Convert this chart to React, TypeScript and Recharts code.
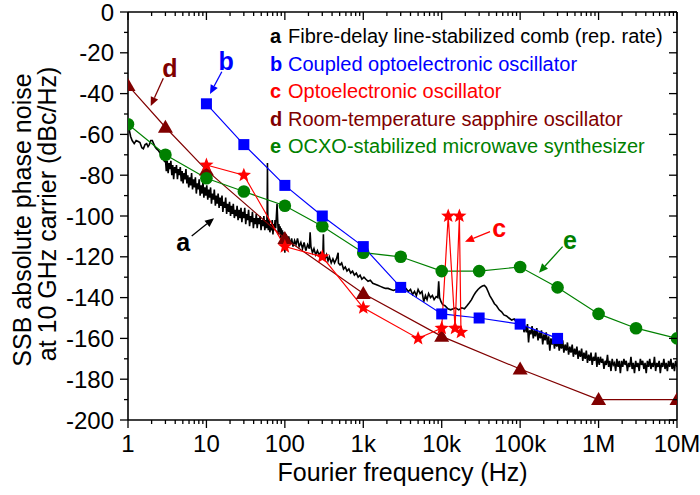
import React from 'react';
import { LineChart, Line, XAxis, YAxis, ReferenceLine, ReferenceDot, Legend } from 'recharts';

const FONT = '"Liberation Sans", Arial, Helvetica, sans-serif';

// ---- axis ticks ----
const xMajorTicks = [1, 10, 100, 1000, 10000, 100000, 1000000, 10000000];
const xMajorLabels = ['1', '10', '100', '1k', '10k', '100k', '1M', '10M'];
const xMinorSteps = [2, 3, 4, 5, 6, 7, 8, 9];
const yMajorTicks = [0, -20, -40, -60, -80, -100, -120, -140, -160, -180, -200];
const yMinorTicks = [-10, -30, -50, -70, -90, -110, -130, -150, -170, -190];

// ---- legend ----
const legendLetters = ['a', 'b', 'c', 'd', 'e'];
const legendNames = [
  'Fibre-delay line-stabilized comb (rep. rate)',
  'Coupled optoelectronic oscillator',
  'Optoelectronic oscillator',
  'Room-temperature sapphire oscillator',
  'OCXO-stabilized microwave synthesizer',
];
const seriesColors = ['#000000', '#0000ff', '#ff0000', '#800000', '#008000'];

// ---- series b: coupled optoelectronic oscillator ----
const bFreq = [10, 30, 100, 300, 1000, 3000, 10000, 30000, 100000, 300000];
const bVal = [-45, -65, -85, -100, -115, -135, -148, -150, -153, -160];

// ---- series c: optoelectronic oscillator ----
const cFreq = [10, 30, 100, 300, 1000, 5000, 10000, 12100, 14800, 16800, 17600];
const cVal = [-75, -80, -115, -120, -145, -160, -155, -100, -155, -100, -157];

// ---- series d: room-temperature sapphire oscillator ----
const dFreq = [1, 3, 10, 100, 1000, 10000, 100000, 1000000, 10000000];
const dVal = [-36, -56.5, -77.5, -111, -138, -159, -175, -190, -190];

// ---- series e: OCXO-stabilized microwave synthesizer ----
const eFreq = [1, 3, 10, 30, 100, 300, 1000, 3000, 10000, 30000, 100000, 300000, 1000000, 3000000, 10000000];
const eVal = [-55, -70, -81.5, -88, -95, -105, -118, -120, -127, -127, -125, -135, -148, -155, -160];

const traceA: [number, number][] = [
  [1, -55], [1.04, -58], [1.08, -61], [1.13, -63], [1.2, -64.5], [1.27, -63], [1.35, -63.5], [1.42, -64],
  [1.5, -66.5], [1.57, -67], [1.65, -65], [1.73, -64.5], [1.8, -66], [1.87, -65], [1.95, -63], [2.04, -63],
  [2.12, -64.5], [2.2, -66], [2.3, -67], [2.45, -68], [2.6, -69.5], [2.75, -71], [2.9, -73],
  [3.0, -72], [3.08, -78], [3.16, -73], [3.25, -79], [3.34, -74], [3.43, -77], [3.52, -73], [3.62, -80],
  [3.72, -75], [3.82, -82], [3.93, -76], [4.04, -79], [4.15, -75], [4.27, -82], [4.39, -77], [4.51, -80],
  [4.64, -76], [4.77, -83], [4.9, -78], [5.04, -84], [5.18, -79], [5.33, -82], [5.48, -77], [5.63, -84],
  [5.79, -80], [5.95, -86], [6.12, -81], [6.29, -85], [6.47, -79], [6.65, -87], [6.84, -82], [7.03, -86],
  [7.23, -81], [7.43, -89], [7.64, -84], [7.86, -87], [8.08, -82], [8.31, -90], [8.54, -85], [8.78, -89],
  [9.03, -83], [9.28, -91], [9.54, -86], [9.81, -90], [10.1, -85], [10.4, -92], [10.7, -87], [11.0, -91],
  [11.3, -86], [11.6, -94], [11.9, -89], [12.3, -92], [12.6, -87], [13.0, -95], [13.3, -90], [13.7, -94],
  [14.1, -89], [14.5, -96], [14.9, -91], [15.3, -95], [15.8, -90], [16.2, -98], [16.7, -93], [17.1, -96],
  [17.6, -91], [18.1, -99], [18.6, -94], [19.2, -98], [19.7, -93], [20.3, -100], [20.8, -95], [21.4, -99],
  [22.0, -94], [22.7, -101], [23.3, -97], [24.0, -100], [24.6, -95], [25.3, -102], [26.1, -97], [26.8, -101],
  [27.6, -96], [28.3, -103], [29.1, -98], [30.0, -101], [30.8, -96], [31.7, -104], [32.6, -99], [33.5, -102],
  [34.5, -97], [35.5, -105], [36.5, -100], [37.5, -103], [38.6, -98], [39.7, -106], [40.8, -101], [42.0, -104],
  [43.2, -99], [44.4, -106], [45.7, -101], [47.0, -104], [48.3, -100], [49.7, -107], [51.1, -102], [52.5, -105],
  [54.0, -100], [55.5, -107], [57.1, -102], [58.5, -106], [59.5, -97], [60.0, -74], [60.5, -98], [61.5, -107],
  [63.0, -102], [64.5, -108], [66.0, -104], [67.5, -107], [69.0, -102], [70.5, -109], [72.0, -104], [73.5, -107],
  [75.0, -102], [76.5, -106], [78.0, -100], [79.5, -94], [81.0, -102], [82.5, -109], [84.0, -104], [85.5, -108],
  [87.0, -105], [88.5, -111], [90.0, -106], [91.5, -110], [93.0, -107], [94.5, -113], [96.0, -108], [97.5, -114],
  [99.0, -112], [100, -118],
  [101, -112], [104, -109], [108, -113], [112, -110], [117, -114], [122, -111], [127, -115], [133, -112],
  [139, -114], [145, -111], [152, -115], [160, -113], [168, -116], [176, -113], [185, -117], [195, -114],
  [205, -116], [210, -108], [215, -115], [225, -118], [235, -116], [247, -119], [260, -117], [272, -119],
  [285, -118], [298, -120], [306, -117], [310, -109], [314, -119], [325, -121], [340, -119], [355, -122],
  [370, -120], [390, -123], [410, -121], [430, -123], [455, -121], [478, -118], [482, -123], [505, -124],
  [530, -123], [560, -126], [590, -125], [620, -127], [655, -126], [690, -128], [730, -127], [770, -129],
  [815, -128], [860, -130], [910, -129], [960, -131], [1020, -130], [1080, -131], [1150, -132], [1230, -131.5],
  [1320, -133], [1420, -133.5], [1530, -134], [1650, -134.5], [1780, -135], [1920, -135.5], [2070, -135.5], [2240, -136],
  [2420, -136.5], [2600, -136], [2800, -135.5], [3000, -135.5], [3250, -135], [3500, -135.5], [3750, -137], [4000, -136],
  [4250, -138.5], [4500, -137], [4750, -139], [5000, -136], [5300, -138], [5600, -137], [5900, -142], [6200, -139],
  [6500, -141], [6800, -138], [7200, -140], [7600, -139], [8000, -141], [8500, -139.5], [8900, -140], [9150, -132],
  [9400, -140], [9800, -142], [10300, -143.5], [11000, -144], [12000, -145.5], [13000, -146], [14000, -145.5], [15000, -145],
  [16500, -146], [18000, -145], [19500, -145.5], [21000, -144], [22500, -142.5], [24000, -141], [25500, -139], [27000, -137.5],
  [29000, -136], [31000, -135], [33000, -134.3], [35000, -134], [37000, -135], [39000, -137], [41000, -139], [44000, -141],
  [47000, -143], [50000, -144], [54000, -146], [58000, -147], [62000, -148.5], [67000, -149], [72000, -150], [78000, -151],
  [84000, -150.5], [90000, -152], [96000, -151.5],
  [100000, -153], [104000, -155], [108000, -151], [112000, -157], [116000, -154], [120000, -157], [124000, -153], [128000, -162],
  [132000, -156], [137000, -158], [142000, -154], [147000, -160], [152000, -156], [157000, -159], [163000, -155], [169000, -161],
  [175000, -157], [181000, -160], [187000, -156], [194000, -163], [201000, -158], [208000, -161], [215000, -157], [223000, -163],
  [231000, -159], [239000, -166], [247000, -160], [256000, -163], [265000, -160], [274000, -165], [284000, -161], [294000, -164],
  [304000, -160], [315000, -166], [326000, -162], [337000, -165], [349000, -161], [361000, -167], [374000, -163], [387000, -166],
  [401000, -162], [415000, -168], [430000, -164], [445000, -167], [461000, -163], [477000, -169], [494000, -165], [511000, -168],
  [529000, -164], [548000, -170], [567000, -166], [587000, -169], [608000, -165], [629000, -171], [651000, -167], [674000, -170],
  [698000, -166], [722000, -172], [748000, -168], [774000, -171], [801000, -167], [829000, -173], [858000, -169], [888000, -171],
  [919000, -167], [952000, -174], [985000, -169], [1020000, -173], [1056000, -169], [1093000, -172], [1131000, -170], [1171000, -175],
  [1212000, -171], [1255000, -173], [1299000, -168], [1344000, -174], [1391000, -171], [1440000, -176], [1491000, -170], [1543000, -173],
  [1597000, -172], [1653000, -176], [1711000, -170], [1771000, -174], [1833000, -171], [1897000, -177], [1964000, -171], [2033000, -174],
  [2104000, -170], [2178000, -173], [2254000, -171], [2333000, -176], [2415000, -172], [2500000, -174], [2588000, -169], [2679000, -175],
  [2773000, -172], [2870000, -177], [2971000, -171], [3075000, -174], [3183000, -172], [3295000, -176], [3410000, -170], [3530000, -173],
  [3654000, -171], [3782000, -175], [3915000, -172], [4052000, -177], [4194000, -171], [4341000, -174], [4493000, -170], [4651000, -175],
  [4814000, -172], [4983000, -174], [5158000, -169], [5339000, -176], [5526000, -172], [5720000, -174], [5921000, -171], [6129000, -177],
  [6344000, -172], [6567000, -174], [6797000, -170], [7036000, -175], [7283000, -172], [7539000, -176], [7804000, -171], [8078000, -174],
  [8362000, -170], [8656000, -175], [8960000, -172], [9274000, -176], [9600000, -171], [10000000, -174],
];

// ---- annotations (data coordinates) ----
const annLetters = ['a', 'b', 'c', 'd', 'e'];
const annLetterPos: [number, number][] = [[5.07, -112.6], [17.8, -23.9], [54200, -106], [3.43, -27.3], [432000, -111.8]];
const annArrowFrom: [number, number][] = [[6.49, -109.8], [15.7, -29.3], [41300, -107.7], [2.82, -32.5], [348000, -115]];
const annArrowTo: [number, number][] = [[12.5, -101.1], [11.1, -40.2], [19800, -112.6], [1.95, -46.1], [174000, -127.8]];

const xAllTicks = xMajorTicks.flatMap((m, i) =>
  i < xMajorTicks.length - 1 ? [m, ...xMinorSteps.map((s) => m * s)] : [m]
);
const yAllTicks = [...yMajorTicks, ...yMinorTicks].sort((a, b) => b - a);

const toPts = (fs: number[], vs: number[]) => fs.map((f, i) => ({ f, v: vs[i] }));
const dataA = traceA.map(([f, v]) => ({ f, v }));
const dataB = toPts(bFreq, bVal);
const dataC = toPts(cFreq, cVal);
const dataD = toPts(dFreq, dVal);
const dataE = toPts(eFreq, eVal);

// ---- ticks ----
const BottomTick = (props: any) => {
  const { x, y, payload } = props;
  const i = xMajorTicks.indexOf(payload.value);
  const major = i >= 0;
  return (
    <g>
      <line x1={x} x2={x} y1={y} y2={y + (major ? 8 : 4)} stroke="#000" strokeWidth={1.3} />
      {major && (
        <text x={x} y={y + 32} textAnchor="middle" fontFamily={FONT} fontSize={24} fill="#000">
          {xMajorLabels[i]}
        </text>
      )}
    </g>
  );
};
const TopTick = (props: any) => {
  const { x, y, payload } = props;
  const major = xMajorTicks.indexOf(payload.value) >= 0;
  return <line x1={x} x2={x} y1={y} y2={y + (major ? 8 : 4)} stroke="#000" strokeWidth={1.3} />;
};
const LeftTick = (props: any) => {
  const { x, y, payload } = props;
  const major = yMajorTicks.indexOf(payload.value) >= 0;
  return (
    <g>
      <line x1={x - (major ? 8 : 4)} x2={x} y1={y} y2={y} stroke="#000" strokeWidth={1.3} />
      {major && (
        <text x={x - 14} y={y} dy="0.36em" textAnchor="end" fontFamily={FONT} fontSize={24} fill="#000">
          {String(payload.value)}
        </text>
      )}
    </g>
  );
};
const RightTick = (props: any) => {
  const { x, y, payload } = props;
  const major = yMajorTicks.indexOf(payload.value) >= 0;
  return <line x1={x - (major ? 8 : 4)} x2={x} y1={y} y2={y} stroke="#000" strokeWidth={1.3} />;
};

// ---- axis titles ----
const XTitle = (props: any) => {
  const vb = props.viewBox || { x: 128, y: 420, width: 549, height: 60 };
  return (
    <text x={vb.x + vb.width / 2} y={vb.y + 61} textAnchor="middle" fontFamily={FONT} fontSize={25} fill="#000">
      Fourier frequency (Hz)
    </text>
  );
};
const YTitle = (props: any) => {
  const vb = props.viewBox || { x: 68, y: 12, width: 60, height: 408 };
  const cy = vb.y + vb.height / 2;
  const x1 = vb.x - 37;
  const x2 = vb.x - 12;
  return (
    <g fontFamily={FONT} fontSize={25} fill="#000">
      <text x={x1} y={cy + 4} textAnchor="middle" transform={`rotate(-90 ${x1} ${cy + 4})`}>
        SSB absolute phase noise
      </text>
      <text x={x2} y={cy - 2} textAnchor="middle" transform={`rotate(-90 ${x2} ${cy - 2})`}>
        at 10 GHz carrier (dBc/Hz)
      </text>
    </g>
  );
};

// ---- markers ----
const starPoints = (cx: number, cy: number, ro: number, ri: number) => {
  const pts: string[] = [];
  for (let k = 0; k < 10; k++) {
    const r = k % 2 === 0 ? ro : ri;
    const a = -Math.PI / 2 + (k * Math.PI) / 5;
    pts.push(`${cx + r * Math.cos(a)},${cy + r * Math.sin(a)}`);
  }
  return pts.join(' ');
};
const SquareDot = (p: any) => (
  <rect key={`b${p.index}`} x={p.cx - 5.5} y={p.cy - 5.5} width={11} height={11} fill={seriesColors[1]} />
);
const StarDot = (p: any) => (
  <polygon key={`c${p.index}`} points={starPoints(p.cx, p.cy, 7.5, 3.2)} fill={seriesColors[2]} />
);
const TriDot = (p: any) => (
  <polygon
    key={`d${p.index}`}
    points={`${p.cx},${p.cy - 7.5} ${p.cx + 7.5},${p.cy + 5.5} ${p.cx - 7.5},${p.cy + 5.5}`}
    fill={seriesColors[3]}
  />
);
const CircleDot = (p: any) => <circle key={`e${p.index}`} cx={p.cx} cy={p.cy} r={6.3} fill={seriesColors[4]} />;

// ---- annotation shapes ----
const makeArrow = (color: string) => (p: any) => {
  const { x1, y1, x2, y2 } = p;
  if ([x1, y1, x2, y2].some((v) => typeof v !== 'number' || isNaN(v))) return <g />;
  const dx = x2 - x1;
  const dy = y2 - y1;
  const len = Math.sqrt(dx * dx + dy * dy) || 1;
  const ux = dx / len;
  const uy = dy / len;
  const hl = 9;
  const hw = 4;
  const bx = x2 - ux * hl;
  const by = y2 - uy * hl;
  return (
    <g>
      <line x1={x1} y1={y1} x2={bx} y2={by} stroke={color} strokeWidth={1.3} />
      <polygon
        points={`${x2},${y2} ${bx - uy * hw},${by + ux * hw} ${bx + uy * hw},${by - ux * hw}`}
        fill={color}
      />
    </g>
  );
};
const makeLetter = (letter: string, color: string) => (p: any) => (
  <text
    x={p.cx}
    y={p.cy}
    dy="0.36em"
    textAnchor="middle"
    fontFamily={FONT}
    fontSize={25}
    fontWeight="bold"
    fill={color}
  >
    {letter}
  </text>
);

const LegendBox = () => (
  <svg width={700} height={170} style={{ display: 'block' }}>
    {legendLetters.map((l, i) => (
      <text key={l} y={43 + i * 27.5} fontFamily={FONT} fontSize={20} fill={seriesColors[i]}>
        <tspan x={270} fontWeight="bold">
          {l}
        </tspan>
        <tspan x={288}>{legendNames[i]}</tspan>
      </text>
    ))}
  </svg>
);

const annColorIndex = [0, 1, 2, 3, 4];

export default function App() {
  const axisLine = { stroke: '#000', strokeWidth: 1.6 };
  return (
    <div style={{ width: 700, height: 495, background: '#fff' }}>
      <style>{`body{margin:0;background:#fff}`}</style>
      <LineChart width={700} height={495} margin={{ top: 11, right: 22, bottom: 15, left: 68 }}>
        <XAxis
          xAxisId={0}
          dataKey="f"
          type="number"
          scale="log"
          domain={[1, 10000000]}
          ticks={xAllTicks}
          interval={0}
          tick={<BottomTick />}
          tickLine={false}
          tickSize={0}
          tickMargin={0}
          height={60}
          allowDataOverflow
          axisLine={axisLine}
          label={<XTitle />}
        />
        <XAxis
          xAxisId="top"
          orientation="top"
          dataKey="f"
          type="number"
          scale="log"
          domain={[1, 10000000]}
          ticks={xAllTicks}
          interval={0}
          tick={<TopTick />}
          tickLine={false}
          tickSize={0}
          tickMargin={0}
          height={1}
          allowDataOverflow
          axisLine={axisLine}
        />
        <YAxis
          yAxisId={0}
          type="number"
          domain={[-200, 0]}
          ticks={yAllTicks}
          interval={0}
          tick={<LeftTick />}
          tickLine={false}
          tickSize={0}
          tickMargin={0}
          width={60}
          allowDataOverflow
          axisLine={axisLine}
          label={<YTitle />}
        />
        <YAxis
          yAxisId="right"
          orientation="right"
          type="number"
          domain={[-200, 0]}
          ticks={yAllTicks}
          interval={0}
          tick={<RightTick />}
          tickLine={false}
          tickSize={0}
          tickMargin={0}
          width={1}
          allowDataOverflow
          axisLine={axisLine}
        />
        <Legend
          layout="horizontal"
          verticalAlign="middle"
          align="center"
          wrapperStyle={{ position: 'absolute', left: 0, top: 0, width: 700, height: 170, margin: 0, padding: 0 }}
          content={() => <LegendBox />}
        />
        <Line
          data={dataA}
          dataKey="v"
          name={legendNames[0]}
          stroke={seriesColors[0]}
          strokeWidth={1.6}
          dot={false}
          activeDot={false}
          isAnimationActive={false}
        />
        <Line
          data={dataD}
          dataKey="v"
          name={legendNames[3]}
          stroke={seriesColors[3]}
          strokeWidth={1.2}
          dot={TriDot}
          activeDot={false}
          isAnimationActive={false}
        />
        <Line
          data={dataE}
          dataKey="v"
          name={legendNames[4]}
          stroke={seriesColors[4]}
          strokeWidth={1.2}
          dot={CircleDot}
          activeDot={false}
          isAnimationActive={false}
        />
        <Line
          data={dataB}
          dataKey="v"
          name={legendNames[1]}
          stroke={seriesColors[1]}
          strokeWidth={1.2}
          dot={SquareDot}
          activeDot={false}
          isAnimationActive={false}
        />
        <Line
          data={dataC}
          dataKey="v"
          name={legendNames[2]}
          stroke={seriesColors[2]}
          strokeWidth={1.2}
          dot={StarDot}
          activeDot={false}
          isAnimationActive={false}
        />
        {annLetters.map((l, i) => (
          <ReferenceLine
            key={`arr-${l}`}
            segment={[
              { x: annArrowFrom[i][0], y: annArrowFrom[i][1] },
              { x: annArrowTo[i][0], y: annArrowTo[i][1] },
            ]}
            shape={makeArrow(seriesColors[annColorIndex[i]])}
            ifOverflow="visible"
          />
        ))}
        {annLetters.map((l, i) => (
          <ReferenceDot
            key={`let-${l}`}
            x={annLetterPos[i][0]}
            y={annLetterPos[i][1]}
            r={0}
            shape={makeLetter(l, seriesColors[annColorIndex[i]])}
            ifOverflow="visible"
          />
        ))}
      </LineChart>
    </div>
  );
}
